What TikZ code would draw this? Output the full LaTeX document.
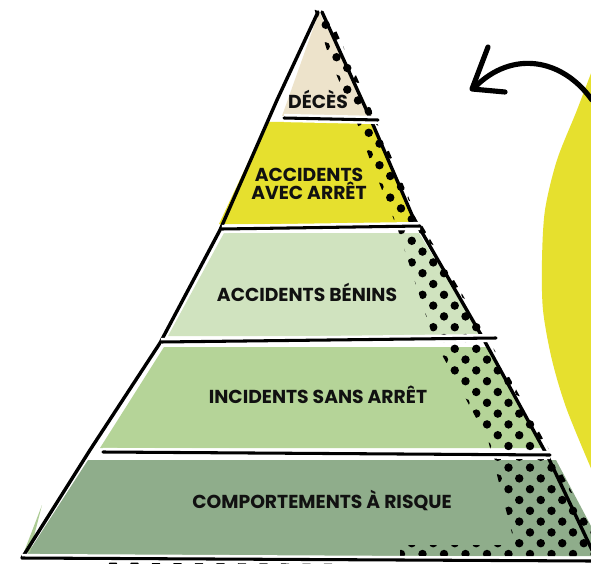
\documentclass[tikz,border=0pt]{standalone}
\usepackage{fontspec}
\setmainfont{Poppins}
\definecolor{beige}{HTML}{EDE3CB}
\definecolor{yel}{HTML}{E6E02E}
\definecolor{lgreen}{HTML}{D0E3BF}
\definecolor{mgreen}{HTML}{B5D498}
\definecolor{dgreen}{HTML}{8FAD8B}
\definecolor{ink}{HTML}{111111}
\begin{document}
\begin{tikzpicture}[x=0.03cm,y=-0.03cm,
  lbl/.style={font=\bfseries\fontsize{16}{19}\selectfont, text=ink, align=center, inner sep=0pt},
  edgeline/.style={draw=black, line width=2.9pt, line cap=round, line join=round},
  sepline/.style={draw=black, line width=2.6pt, line cap=round, preaction={draw=white, line width=7pt}},
  dotfill/.style={fill=black}]
\useasboundingbox (0,0) rectangle (591,564);
\clip (0,0) rectangle (591,564);
\fill[white] (0,0) rectangle (591,564);

% yellow blob on the right
\fill[yel] plot[smooth] coordinates {(596,60) (577,110) (557,160) (545,210) (542,260) (543,310) (552,360) (567,410) (596,480)} -- (610,480) -- (610,60) -- cycle;

% curved arrow
\coordinate (arrS) at (592,100);
\coordinate (arrT) at (475,87);
\coordinate (armA) at (488,47);
\coordinate (armB) at (505,92);
\draw[line width=4.4pt, line cap=round, line join=round] (arrS) .. controls (562,58) and (512,50) .. (arrT);
\draw[line width=4.4pt, line cap=round, line join=round] (armA) -- (472,89) -- (armB);

% band fills
\fill[beige] (319,12) -- (282,116) -- (372,116) -- cycle;
\fill[yel] (267,122) -- (373,122) -- (415,224) -- (219,224) -- cycle;
\fill[lgreen] (224,233) -- (419,233) -- (482,336) -- (168,336) -- cycle;
\fill[mgreen] (164,347) -- (488,347) -- (542,448) -- (100,448) -- cycle;
\fill[dgreen] (88,460) -- (556,460) -- (591,526) -- (591,556) -- (26,556) -- cycle;
\fill[mgreen!80!dgreen] (42,505) -- (30,552) -- (24,552) -- cycle;

% dotted shadow
\begin{scope}
\clip (314,8) -- (330,60) -- (356,120) -- (370,160) -- (398,230) -- (434,340) -- (488,440) -- (515,545) -- (400,545) -- (400,556) -- (591,556) -- (591,528) -- (553,457) -- (489,340) -- (416,215) -- (375,118) -- (326,8) -- cycle;
\foreach \k in {0,...,50}{
  \foreach \j in {0,...,15}{
    \pgfmathsetmacro\dx{272+\j*21.5+mod(\k,2)*10.75}
    \pgfmathsetmacro\dy{14+\k*10.8}
    \fill[dotfill] (\dx,\dy) circle[radius=3.6pt];
  }
}
\end{scope}
\foreach \j in {0,...,23}{
  \pgfmathsetmacro\dx{113+\j*21.5}
  \fill[dotfill] (\dx,564) circle[radius=3.6pt];
}

% outline of the pyramid
\coordinate (apL) at (318,12);
\coordinate (apR) at (322,12);
\coordinate (botL) at (22,558);
\coordinate (botR) at (591,561);
\draw[edgeline] (apL) -- (277,100) -- (220,230) -- (160,343) -- (90,450) -- (botL);
\draw[edgeline] (apR) -- (371,120) -- (412,215) -- (484,340) -- (548,457) -- (592,550);

% separators
\coordinate (s1a) at (284,118); \coordinate (s1b) at (378,120);
\coordinate (s2a) at (222,229); \coordinate (s2b) at (420,226);
\coordinate (s3a) at (161,342); \coordinate (s3b) at (496,338);
\coordinate (s4a) at (103,452); \coordinate (s4b) at (550,455);
\draw[sepline] (s1a) -- (s1b);
\draw[sepline] (s2a) -- (s2b);
\draw[sepline] (s3a) -- (s3b);
\draw[sepline] (s4a) -- (s4b);
\draw[sepline] (botL) -- (botR);

% labels
\node[lbl] (deces) at (318,99) {DÉCÈS};
\node[lbl] (avec) at (309,184) {ACCIDENTS\\[-3pt]AVEC ARRÊT};
\node[lbl] (benins) at (307,292) {ACCIDENTS BÉNINS};
\node[lbl] (incid) at (318,395) {INCIDENTS SANS ARRÊT};
\node[lbl] (compo) at (322,500) {COMPORTEMENTS À RISQUE};
\end{tikzpicture}
\end{document}
